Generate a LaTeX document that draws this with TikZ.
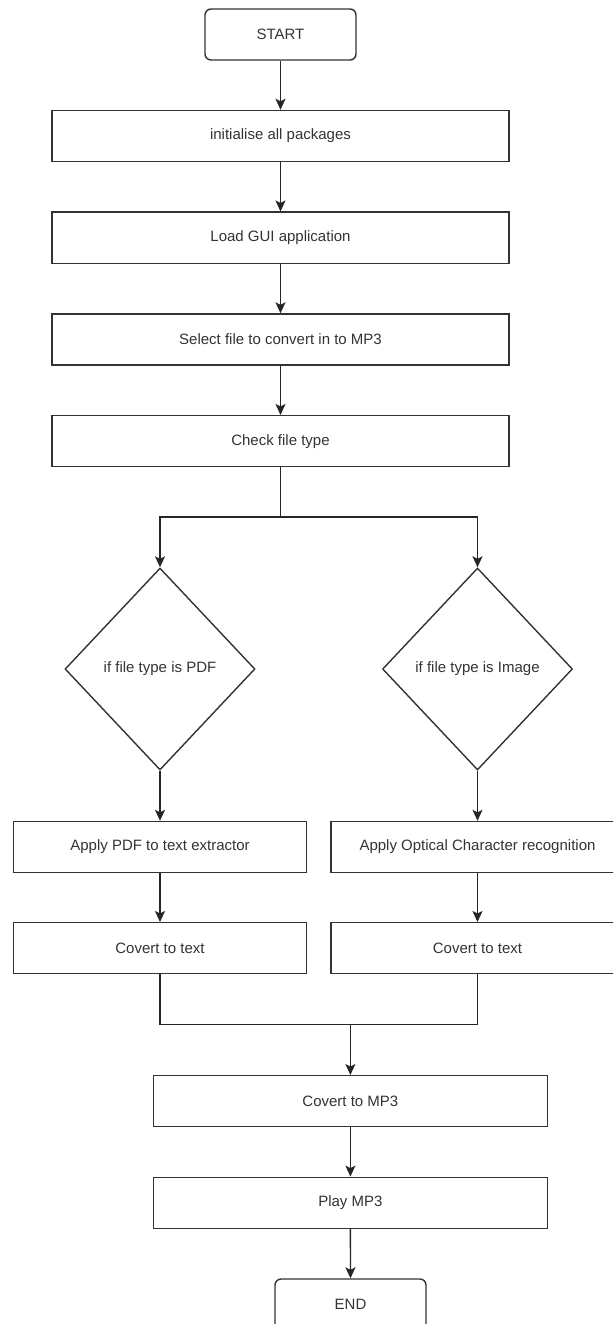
\documentclass[tikz,border=0pt]{standalone}
\usepackage{fontspec}
\setmainfont{Liberation Sans}
\usetikzlibrary{shapes.geometric,arrows.meta}

\begin{document}
\begin{tikzpicture}[x=1pt,y=-1pt,
		every node/.style={font=\fontsize{15}{18}\selectfont,text=black!80},
		proc/.style={draw=black!80,line width=1.4pt,rectangle,inner sep=0pt,minimum width=#1,minimum height=51pt},
		proc/.default=457pt,
		term/.style={draw=black!80,line width=1.4pt,rounded corners=6pt,inner sep=0pt,minimum width=151pt,minimum height=51pt},
		decide/.style={draw=black!80,line width=1.4pt,diamond,inner sep=0pt,minimum width=190pt,minimum height=202pt},
		arr/.style={line width=1.4pt,black!85,-{Stealth[length=11pt,width=10pt,inset=2.5pt]}},
		ln/.style={line width=1.4pt,black!85}]
				\useasboundingbox (0,0) rectangle (613,1324);
				\clip (0,0) rectangle (613,1324);
				\node[term] (start) at (280.5,34.5) {START};
				\node[proc] (init) at (280.5,136) {initialise all packages};
				\node[proc] (gui) at (280.5,237.7) {Load GUI application};
				\node[proc] (select) at (280.5,339.5) {Select file to convert in to MP3};
				\node[proc] (check) at (280.5,441.2) {Check file type};
				\coordinate (split) at (280.5,517);
				\node[decide] (ifpdf) at (160,669) {if file type is PDF};
				\node[decide] (ifimg) at (477.5,669) {if file type is Image};
				\node[proc=293pt] (pdfx) at (160,847) {Apply PDF to text extractor};
				\node[proc=293pt] (ocr) at (477.5,847) {Apply Optical Character recognition};
				\node[proc=293pt] (txtl) at (160,948.2) {Covert to text};
				\node[proc=293pt] (txtr) at (477.5,948.2) {Covert to text};
				\coordinate (merge) at (350.4,1024.3);
				\node[proc=394pt] (mp3) at (350.4,1101.2) {Covert to MP3};
				\node[proc=394pt] (play) at (350.4,1202.8) {Play MP3};
				\node[term] (end) at (350.5,1304.5) {END};
				\draw[arr] (start) -- (init);
				\draw[arr] (init) -- (gui);
				\draw[arr] (gui) -- (select);
				\draw[arr] (select) -- (check);
				\draw[ln] (check) -- (split);
				\draw[arr] (split) -| (ifpdf.north);
				\draw[arr] (split) -| (ifimg.north);
				\draw[arr] (ifpdf) -- (pdfx);
				\draw[arr] (ifimg) -- (ocr);
				\draw[arr] (pdfx) -- (txtl);
				\draw[arr] (ocr) -- (txtr);
				\draw[ln] (txtl.south) |- (merge);
				\draw[ln] (txtr.south) |- (merge);
				\draw[arr] (merge) -- (mp3);
				\draw[arr] (mp3) -- (play);
				\draw[arr] (play) -- (end);
			\end{tikzpicture}
\end{document}
